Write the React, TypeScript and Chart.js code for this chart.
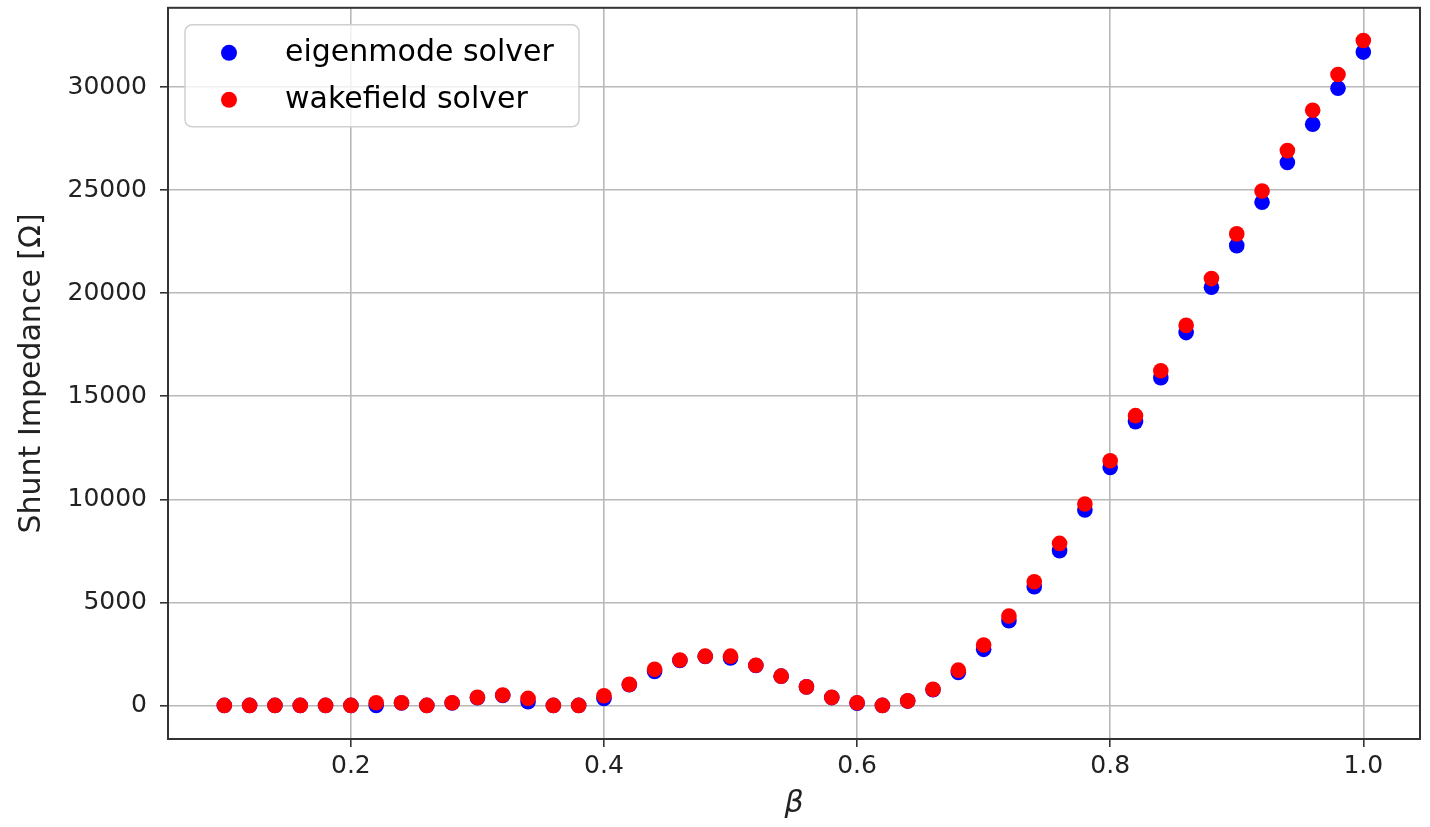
import { useEffect, useRef } from "react";
import { Chart, registerables } from "chart.js";

Chart.register(...registerables);

const beta = [
  0.1, 0.12, 0.14, 0.16, 0.18, 0.2, 0.22, 0.24, 0.26, 0.28,
  0.3, 0.32, 0.34, 0.36, 0.38, 0.4, 0.42, 0.44, 0.46, 0.48,
  0.5, 0.52, 0.54, 0.56, 0.58, 0.6, 0.62, 0.64, 0.66, 0.68,
  0.7, 0.72, 0.74, 0.76, 0.78, 0.8, 0.82, 0.84, 0.86, 0.88,
  0.9, 0.92, 0.94, 0.96, 0.98, 1.0,
];

const eigenmode = [
  0, 0, 0, 0, 0, 0, 0, 120, 0, 120,
  370, 480, 180, 0, 0, 340, 1000, 1650, 2180, 2370,
  2300, 1940, 1420, 900, 380, 110, 0, 210, 760, 1600,
  2720, 4110, 5760, 7510, 9480, 11550, 13770, 15900, 18090, 20290,
  22310, 24420, 26340, 28200, 29950, 31700,
];

const wakefield = [
  0, 0, 0, 0, 0, 0, 130, 130, 0, 130,
  390, 500, 340, 0, 0, 470, 1020, 1750, 2200, 2390,
  2390, 1950, 1420, 900, 390, 130, 0, 220, 780, 1710,
  2930, 4335, 6000, 7860, 9770, 11870, 14060, 16240, 18440, 20710,
  22880, 24960, 26920, 28880, 30610, 32260,
];

const seriesLabels = ["eigenmode solver", "wakefield solver"];
const seriesColors = ["#0000ff", "#ff0000"];
const xTicks = [0.2, 0.4, 0.6, 0.8, 1.0];
const yTicks = [0, 5000, 10000, 15000, 20000, 25000, 30000];
const xTitle = "β";
const yTitle = "Shunt Impedance [Ω]";

const FONT = "'DejaVu Sans', sans-serif";

export default function App() {
  const ref = useRef<HTMLCanvasElement>(null);

  useEffect(() => {
    document.body.style.margin = "0";
    const canvas = ref.current;
    if (!canvas) return;

    const framePlugin = {
      id: "frame",
      afterDatasetsDraw(chart: any) {
        const { ctx, chartArea } = chart;
        ctx.save();
        ctx.strokeStyle = "#333333";
        ctx.lineWidth = 2;
        ctx.strokeRect(chartArea.left, chartArea.top, chartArea.right - chartArea.left, chartArea.bottom - chartArea.top);
        ctx.restore();
      },
    };

    const legendPlugin = {
      id: "innerLegend",
      afterDraw(chart: any) {
        const { ctx, chartArea } = chart;
        const x = chartArea.left + 17;
        const y = chartArea.top + 17;
        const w = 394;
        const h = 102;
        const r = 7;
        ctx.save();
        ctx.beginPath();
        ctx.moveTo(x + r, y);
        ctx.arcTo(x + w, y, x + w, y + h, r);
        ctx.arcTo(x + w, y + h, x, y + h, r);
        ctx.arcTo(x, y + h, x, y, r);
        ctx.arcTo(x, y, x + w, y, r);
        ctx.closePath();
        ctx.fillStyle = "rgba(255,255,255,0.8)";
        ctx.fill();
        ctx.strokeStyle = "#d0d0d0";
        ctx.lineWidth = 1.5;
        ctx.stroke();
        ctx.font = `30px ${FONT}`;
        ctx.textBaseline = "alphabetic";
        ctx.textAlign = "left";
        seriesLabels.forEach((label, i) => {
          const cy = y + 28 + i * 47;
          ctx.beginPath();
          ctx.arc(x + 44, cy, 8, 0, Math.PI * 2);
          ctx.fillStyle = seriesColors[i];
          ctx.fill();
          ctx.fillStyle = "#000000";
          ctx.fillText(label, x + 100, cy + 8);
        });
        ctx.restore();
      },
    };

    const chart = new Chart(canvas, {
      type: "scatter",
      data: {
        datasets: [
          {
            label: seriesLabels[0],
            data: beta.map((b, i) => ({ x: b, y: eigenmode[i] })),
            backgroundColor: seriesColors[0],
            borderWidth: 0,
            pointRadius: 7.8,
            order: 2,
          },
          {
            label: seriesLabels[1],
            data: beta.map((b, i) => ({ x: b, y: wakefield[i] })),
            backgroundColor: seriesColors[1],
            borderWidth: 0,
            pointRadius: 7.8,
            order: 1,
          },
        ],
      },
      options: {
        responsive: false,
        animation: false,
        devicePixelRatio: 1,
        layout: { padding: { left: 0, top: 7, right: 10, bottom: 0 } },
        plugins: {
          legend: { display: false },
          tooltip: { enabled: false },
        },
        scales: {
          x: {
            type: "linear",
            min: 0.0555,
            max: 1.0448,
            afterBuildTicks: (scale: any) => {
              scale.ticks = xTicks.map((v) => ({ value: v }));
            },
            afterFit: (scale: any) => {
              scale.height = 88;
              scale.paddingLeft = 0;
              scale.paddingRight = 0;
            },
            ticks: {
              callback: (v: any) => Number(v).toFixed(1),
              color: "#222222",
              font: { family: FONT, size: 25 },
              padding: 4,
              maxRotation: 0,
              autoSkip: false,
            },
            grid: {
              color: "#b8b8b8",
              lineWidth: 1.6,
              drawTicks: true,
              tickLength: 8,
              tickColor: "#333333",
              tickWidth: 1.6,
            },
            border: { display: false },
            title: {
              display: true,
              text: xTitle,
              color: "#222222",
              font: { family: FONT, size: 30, style: "italic" },
              padding: { top: 0, bottom: 5 },
            },
          },
          y: {
            type: "linear",
            min: -1630,
            max: 33850,
            afterBuildTicks: (scale: any) => {
              scale.ticks = yTicks.map((v) => ({ value: v }));
            },
            afterFit: (scale: any) => {
              scale.width = 168;
              scale.paddingTop = 0;
              scale.paddingBottom = 0;
            },
            ticks: {
              callback: (v: any) => String(v),
              color: "#222222",
              font: { family: FONT, size: 25 },
              padding: 13,
              autoSkip: false,
            },
            grid: {
              color: "#b8b8b8",
              lineWidth: 1.6,
              drawTicks: true,
              tickLength: 8,
              tickColor: "#333333",
              tickWidth: 1.6,
            },
            border: { display: false },
            title: {
              display: true,
              text: yTitle,
              color: "#222222",
              font: { family: FONT, size: 30 },
              padding: { top: 14, bottom: 0 },
            },
          },
        },
      },
      plugins: [framePlugin, legendPlugin],
    });

    return () => chart.destroy();
  }, []);

  return (
    <div style={{ position: "absolute", left: 0, top: 0, width: 1430, height: 827 }}>
      <canvas ref={ref} width={1430} height={827} />
    </div>
  );
}
